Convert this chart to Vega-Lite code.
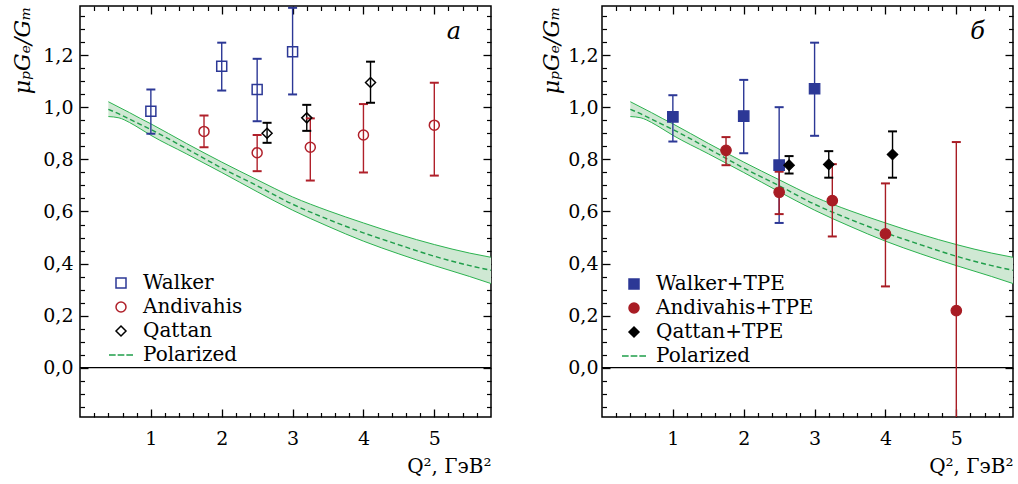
{
  "$schema": "https://vega.github.io/schema/vega-lite/v6.json",
  "background": "white",
  "padding": {"left": 11, "top": 4, "right": 5, "bottom": 5},
  "spacing": 45,
  "datasets": {
    "band": [
      {"q2": 0.4, "lo": 0.965, "mid": 0.993, "hi": 1.022},
      {"q2": 0.55, "lo": 0.960, "mid": 0.975, "hi": 1.001},
      {"q2": 0.7, "lo": 0.942, "mid": 0.955, "hi": 0.980},
      {"q2": 0.85, "lo": 0.918, "mid": 0.935, "hi": 0.958},
      {"q2": 1.0, "lo": 0.893, "mid": 0.915, "hi": 0.937},
      {"q2": 1.5, "lo": 0.822, "mid": 0.842, "hi": 0.862},
      {"q2": 2.0, "lo": 0.750, "mid": 0.767, "hi": 0.790},
      {"q2": 2.5, "lo": 0.676, "mid": 0.699, "hi": 0.722},
      {"q2": 3.0, "lo": 0.605, "mid": 0.628, "hi": 0.656},
      {"q2": 3.5, "lo": 0.543, "mid": 0.570, "hi": 0.603},
      {"q2": 4.0, "lo": 0.486, "mid": 0.518, "hi": 0.556},
      {"q2": 4.5, "lo": 0.437, "mid": 0.472, "hi": 0.512},
      {"q2": 5.0, "lo": 0.392, "mid": 0.428, "hi": 0.473},
      {"q2": 5.5, "lo": 0.350, "mid": 0.392, "hi": 0.440},
      {"q2": 5.8, "lo": 0.323, "mid": 0.374, "hi": 0.424}
    ],
    "zero": [{"v": 0}],
    "left": [
      {"series": "Walker", "q2": 1.0, "v": 0.985, "lo": 0.899, "hi": 1.069},
      {"series": "Walker", "q2": 2.0, "v": 1.158, "lo": 1.065, "hi": 1.249},
      {"series": "Walker", "q2": 2.5, "v": 1.069, "lo": 0.947, "hi": 1.187},
      {"series": "Walker", "q2": 3.0, "v": 1.214, "lo": 1.050, "hi": 1.383},
      {"series": "Andivahis", "q2": 1.75, "v": 0.908, "lo": 0.847, "hi": 0.969},
      {"series": "Andivahis", "q2": 2.5, "v": 0.826, "lo": 0.755, "hi": 0.894},
      {"series": "Andivahis", "q2": 3.25, "v": 0.847, "lo": 0.719, "hi": 0.958},
      {"series": "Andivahis", "q2": 4.0, "v": 0.894, "lo": 0.750, "hi": 1.013},
      {"series": "Andivahis", "q2": 5.0, "v": 0.932, "lo": 0.738, "hi": 1.095},
      {"series": "Qattan", "q2": 2.64, "v": 0.901, "lo": 0.864, "hi": 0.941},
      {"series": "Qattan", "q2": 3.2, "v": 0.960, "lo": 0.910, "hi": 1.010},
      {"series": "Qattan", "q2": 4.1, "v": 1.096, "lo": 1.018, "hi": 1.176}
    ],
    "right": [
      {"series": "Walker+TPE", "q2": 1.0, "v": 0.964, "lo": 0.869, "hi": 1.047},
      {"series": "Walker+TPE", "q2": 2.0, "v": 0.967, "lo": 0.824, "hi": 1.106},
      {"series": "Walker+TPE", "q2": 2.5, "v": 0.778, "lo": 0.556, "hi": 1.001},
      {"series": "Walker+TPE", "q2": 3.0, "v": 1.072, "lo": 0.891, "hi": 1.249},
      {"series": "Andivahis+TPE", "q2": 1.75, "v": 0.835, "lo": 0.778, "hi": 0.886},
      {"series": "Andivahis+TPE", "q2": 2.5, "v": 0.674, "lo": 0.590, "hi": 0.753},
      {"series": "Andivahis+TPE", "q2": 3.25, "v": 0.642, "lo": 0.504, "hi": 0.782},
      {"series": "Andivahis+TPE", "q2": 4.0, "v": 0.514, "lo": 0.312, "hi": 0.708},
      {"series": "Andivahis+TPE", "q2": 5.0, "v": 0.219, "lo": -0.430, "hi": 0.867},
      {"series": "Qattan+TPE", "q2": 2.64, "v": 0.778, "lo": 0.746, "hi": 0.813},
      {"series": "Qattan+TPE", "q2": 3.2, "v": 0.781, "lo": 0.730, "hi": 0.832},
      {"series": "Qattan+TPE", "q2": 4.1, "v": 0.819, "lo": 0.730, "hi": 0.908}
    ]
  },
  "hconcat": [
    {
      "width": 411,
      "height": 411,
      "title": {"text": "а", "anchor": "end", "orient": "top", "frame": "group", "offset": -39, "dx": -30, "font": "DejaVu Serif", "fontStyle": "italic", "fontSize": 24, "fontWeight": "normal", "color": "black"},
      "layer": [
        {
          "data": {"name": "band"},
          "mark": {"type": "area", "color": "#cfe8d3", "interpolate": "monotone"},
          "encoding": {
            "x": {"field": "q2", "type": "quantitative", "scale": {"domain": [0, 5.8], "nice": false, "zero": false},
              "axis": {"orient": "bottom", "values": [1, 2, 3, 4, 5], "format": "d", "tickSize": -8, "tickWidth": 1.3, "labelPadding": 20, "title": "Q², ГэВ²", "titleAnchor": "end", "titlePadding": 8}},
            "y": {"field": "lo", "type": "quantitative", "scale": {"domain": [-0.19, 1.39], "nice": false, "zero": false},
              "axis": {"orient": "left", "values": [0, 0.2, 0.4, 0.6, 0.8, 1, 1.2], "labelExpr": "replace(format(datum.value, '.1f'), '.', ',')", "tickSize": -8, "tickWidth": 1.3, "labelPadding": 15, "title": "μₚGₑ/Gₘ", "titleAnchor": "end", "titleFontStyle": "italic", "titleFontSize": 22, "titlePadding": 8}},
            "y2": {"field": "hi"}
          }
        },
        {
          "data": {"name": "band"},
          "mark": {"type": "line", "color": "#2bb24f", "strokeWidth": 1, "interpolate": "monotone"},
          "encoding": {
            "x": {"field": "q2", "type": "quantitative", "axis": {"orient": "top", "values": [1, 2, 3, 4, 5], "tickSize": -8, "tickWidth": 1.3, "labels": false, "title": null}},
            "y": {"field": "lo", "type": "quantitative", "axis": {"orient": "right", "values": [0, 0.2, 0.4, 0.6, 0.8, 1, 1.2], "tickSize": -8, "tickWidth": 1.3, "labels": false, "title": null}}
          }
        },
        {
          "data": {"name": "band"},
          "mark": {"type": "line", "color": "#2bb24f", "strokeWidth": 1, "interpolate": "monotone"},
          "encoding": {
            "x": {"field": "q2", "type": "quantitative", "axis": {"orient": "bottom", "values": [0.2, 0.4, 0.6, 0.8, 1.2, 1.4, 1.6, 1.8, 2.2, 2.4, 2.6, 2.8, 3.2, 3.4, 3.6, 3.8, 4.2, 4.4, 4.6, 4.8, 5.2, 5.4, 5.6], "tickSize": -4.5, "tickWidth": 1.2, "labels": false, "title": null}},
            "y": {"field": "hi", "type": "quantitative", "axis": {"orient": "left", "values": [-0.15, -0.1, -0.05, 0.05, 0.1, 0.15, 0.25, 0.3, 0.35, 0.45, 0.5, 0.55, 0.65, 0.7, 0.75, 0.85, 0.9, 0.95, 1.05, 1.1, 1.15, 1.25, 1.3, 1.35], "tickSize": -4.5, "tickWidth": 1.2, "labels": false, "title": null}}
          }
        },
        {
          "data": {"name": "band"},
          "mark": {"type": "line", "color": "#1f9e4a", "strokeWidth": 1.4, "strokeDash": [5, 3], "interpolate": "monotone"},
          "encoding": {
            "x": {"field": "q2", "type": "quantitative", "axis": {"orient": "top", "values": [0.2, 0.4, 0.6, 0.8, 1.2, 1.4, 1.6, 1.8, 2.2, 2.4, 2.6, 2.8, 3.2, 3.4, 3.6, 3.8, 4.2, 4.4, 4.6, 4.8, 5.2, 5.4, 5.6], "tickSize": -4.5, "tickWidth": 1.2, "labels": false, "title": null}},
            "y": {"field": "mid", "type": "quantitative", "axis": {"orient": "right", "values": [-0.15, -0.1, -0.05, 0.05, 0.1, 0.15, 0.25, 0.3, 0.35, 0.45, 0.5, 0.55, 0.65, 0.7, 0.75, 0.85, 0.9, 0.95, 1.05, 1.1, 1.15, 1.25, 1.3, 1.35], "tickSize": -4.5, "tickWidth": 1.2, "labels": false, "title": null}}
          }
        },
        {
          "data": {"name": "zero"},
          "mark": {"type": "rule", "color": "black", "strokeWidth": 1.3},
          "encoding": {"y": {"field": "v", "type": "quantitative", "axis": null}}
        },
        {
          "data": {"name": "left"},
          "mark": {"type": "rule", "strokeWidth": 1.4, "clip": true},
          "encoding": {
            "x": {"field": "q2", "type": "quantitative", "axis": null},
            "y": {"field": "lo", "type": "quantitative", "axis": null},
            "y2": {"field": "hi"},
            "stroke": {"field": "series", "type": "nominal", "scale": {"domain": ["Walker", "Andivahis", "Qattan"], "range": ["#2c3896", "#b0202a", "#000000"]}, "legend": null}
          }
        },
        {
          "data": {"name": "left"},
          "mark": {"type": "point", "shape": "stroke", "size": 81, "strokeWidth": 2, "filled": false, "opacity": 1, "clip": true},
          "encoding": {
            "x": {"field": "q2", "type": "quantitative", "axis": null},
            "y": {"field": "hi", "type": "quantitative", "axis": null},
            "stroke": {"field": "series", "type": "nominal", "scale": {"domain": ["Walker", "Andivahis", "Qattan"], "range": ["#2c3896", "#b0202a", "#000000"]}, "legend": null}
          }
        },
        {
          "data": {"name": "left"},
          "mark": {"type": "point", "shape": "stroke", "size": 81, "strokeWidth": 2, "filled": false, "opacity": 1, "clip": true},
          "encoding": {
            "x": {"field": "q2", "type": "quantitative", "axis": null},
            "y": {"field": "lo", "type": "quantitative", "axis": null},
            "stroke": {"field": "series", "type": "nominal", "scale": {"domain": ["Walker", "Andivahis", "Qattan"], "range": ["#2c3896", "#b0202a", "#000000"]}, "legend": null}
          }
        },
        {
          "data": {"name": "left"},
          "mark": {"type": "point", "filled": false, "size": 100, "strokeWidth": 1.5, "opacity": 1},
          "encoding": {
            "x": {"field": "q2", "type": "quantitative", "axis": null},
            "y": {"field": "v", "type": "quantitative", "axis": null},
            "color": {"field": "series", "type": "nominal",
              "scale": {"domain": ["Walker", "Andivahis", "Qattan", "Polarized"], "range": ["#2c3896", "#b0202a", "#000000", "#1f9e4a"]},
              "legend": {"title": null, "orient": "none", "legendX": 31, "legendY": 267, "labelFont": "DejaVu Serif", "labelFontSize": 20, "labelOffset": 12}},
            "shape": {"field": "series", "type": "nominal",
              "scale": {"domain": ["Walker", "Andivahis", "Qattan", "Polarized"], "range": ["square", "circle", "diamond", "M-2.4,0H-1.07M-0.67,0H0.67M1.07,0H2.4"]},
              "legend": {"title": null, "orient": "none", "legendX": 31, "legendY": 267, "labelFont": "DejaVu Serif", "labelFontSize": 20, "labelOffset": 12}}
          }
        }
      ]
    },
    {
      "width": 411,
      "height": 411,
      "title": {"text": "б", "anchor": "end", "orient": "top", "frame": "group", "offset": -39, "dx": -28, "font": "DejaVu Serif", "fontStyle": "italic", "fontSize": 24, "fontWeight": "normal", "color": "black"},
      "layer": [
        {
          "data": {"name": "band"},
          "mark": {"type": "area", "color": "#cfe8d3", "interpolate": "monotone"},
          "encoding": {
            "x": {"field": "q2", "type": "quantitative", "scale": {"domain": [0, 5.8], "nice": false, "zero": false},
              "axis": {"orient": "bottom", "values": [1, 2, 3, 4, 5], "format": "d", "tickSize": -8, "tickWidth": 1.3, "labelPadding": 20, "title": "Q², ГэВ²", "titleAnchor": "end", "titlePadding": 8}},
            "y": {"field": "lo", "type": "quantitative", "scale": {"domain": [-0.19, 1.39], "nice": false, "zero": false},
              "axis": {"orient": "left", "values": [0, 0.2, 0.4, 0.6, 0.8, 1, 1.2], "labelExpr": "replace(format(datum.value, '.1f'), '.', ',')", "tickSize": -8, "tickWidth": 1.3, "labelPadding": 12, "title": "μₚGₑ/Gₘ", "titleAnchor": "end", "titleFontStyle": "italic", "titleFontSize": 22, "titlePadding": 4}},
            "y2": {"field": "hi"}
          }
        },
        {
          "data": {"name": "band"},
          "mark": {"type": "line", "color": "#2bb24f", "strokeWidth": 1, "interpolate": "monotone"},
          "encoding": {
            "x": {"field": "q2", "type": "quantitative", "axis": {"orient": "top", "values": [1, 2, 3, 4, 5], "tickSize": -8, "tickWidth": 1.3, "labels": false, "title": null}},
            "y": {"field": "lo", "type": "quantitative", "axis": {"orient": "right", "values": [0, 0.2, 0.4, 0.6, 0.8, 1, 1.2], "tickSize": -8, "tickWidth": 1.3, "labels": false, "title": null}}
          }
        },
        {
          "data": {"name": "band"},
          "mark": {"type": "line", "color": "#2bb24f", "strokeWidth": 1, "interpolate": "monotone"},
          "encoding": {
            "x": {"field": "q2", "type": "quantitative", "axis": {"orient": "bottom", "values": [0.2, 0.4, 0.6, 0.8, 1.2, 1.4, 1.6, 1.8, 2.2, 2.4, 2.6, 2.8, 3.2, 3.4, 3.6, 3.8, 4.2, 4.4, 4.6, 4.8, 5.2, 5.4, 5.6], "tickSize": -4.5, "tickWidth": 1.2, "labels": false, "title": null}},
            "y": {"field": "hi", "type": "quantitative", "axis": {"orient": "left", "values": [-0.15, -0.1, -0.05, 0.05, 0.1, 0.15, 0.25, 0.3, 0.35, 0.45, 0.5, 0.55, 0.65, 0.7, 0.75, 0.85, 0.9, 0.95, 1.05, 1.1, 1.15, 1.25, 1.3, 1.35], "tickSize": -4.5, "tickWidth": 1.2, "labels": false, "title": null}}
          }
        },
        {
          "data": {"name": "band"},
          "mark": {"type": "line", "color": "#1f9e4a", "strokeWidth": 1.4, "strokeDash": [5, 3], "interpolate": "monotone"},
          "encoding": {
            "x": {"field": "q2", "type": "quantitative", "axis": {"orient": "top", "values": [0.2, 0.4, 0.6, 0.8, 1.2, 1.4, 1.6, 1.8, 2.2, 2.4, 2.6, 2.8, 3.2, 3.4, 3.6, 3.8, 4.2, 4.4, 4.6, 4.8, 5.2, 5.4, 5.6], "tickSize": -4.5, "tickWidth": 1.2, "labels": false, "title": null}},
            "y": {"field": "mid", "type": "quantitative", "axis": {"orient": "right", "values": [-0.15, -0.1, -0.05, 0.05, 0.1, 0.15, 0.25, 0.3, 0.35, 0.45, 0.5, 0.55, 0.65, 0.7, 0.75, 0.85, 0.9, 0.95, 1.05, 1.1, 1.15, 1.25, 1.3, 1.35], "tickSize": -4.5, "tickWidth": 1.2, "labels": false, "title": null}}
          }
        },
        {
          "data": {"name": "zero"},
          "mark": {"type": "rule", "color": "black", "strokeWidth": 1.3},
          "encoding": {"y": {"field": "v", "type": "quantitative", "axis": null}}
        },
        {
          "data": {"name": "right"},
          "mark": {"type": "rule", "strokeWidth": 1.4, "clip": true},
          "encoding": {
            "x": {"field": "q2", "type": "quantitative", "axis": null},
            "y": {"field": "lo", "type": "quantitative", "axis": null},
            "y2": {"field": "hi"},
            "stroke": {"field": "series", "type": "nominal", "scale": {"domain": ["Walker+TPE", "Andivahis+TPE", "Qattan+TPE"], "range": ["#2c3896", "#a81c24", "#000000"]}, "legend": null}
          }
        },
        {
          "data": {"name": "right"},
          "mark": {"type": "point", "shape": "stroke", "size": 81, "strokeWidth": 2, "filled": false, "opacity": 1, "clip": true},
          "encoding": {
            "x": {"field": "q2", "type": "quantitative", "axis": null},
            "y": {"field": "hi", "type": "quantitative", "axis": null},
            "stroke": {"field": "series", "type": "nominal", "scale": {"domain": ["Walker+TPE", "Andivahis+TPE", "Qattan+TPE"], "range": ["#2c3896", "#a81c24", "#000000"]}, "legend": null}
          }
        },
        {
          "data": {"name": "right"},
          "mark": {"type": "point", "shape": "stroke", "size": 81, "strokeWidth": 2, "filled": false, "opacity": 1, "clip": true},
          "encoding": {
            "x": {"field": "q2", "type": "quantitative", "axis": null},
            "y": {"field": "lo", "type": "quantitative", "axis": null},
            "stroke": {"field": "series", "type": "nominal", "scale": {"domain": ["Walker+TPE", "Andivahis+TPE", "Qattan+TPE"], "range": ["#2c3896", "#a81c24", "#000000"]}, "legend": null}
          }
        },
        {
          "data": {"name": "right"},
          "mark": {"type": "point", "filled": false, "size": 110, "strokeWidth": 1.2, "opacity": 1, "fillOpacity": 1},
          "encoding": {
            "x": {"field": "q2", "type": "quantitative", "axis": null},
            "y": {"field": "v", "type": "quantitative", "axis": null},
            "color": {"field": "series", "type": "nominal",
              "scale": {"domain": ["Walker+TPE", "Andivahis+TPE", "Qattan+TPE", "Polarized"], "range": ["#2c3896", "#a81c24", "#000000", "#1f9e4a"]},
              "legend": {"title": null, "orient": "none", "legendX": 22, "legendY": 268, "labelFont": "DejaVu Serif", "labelFontSize": 20, "labelOffset": 12}},
            "fill": {"field": "series", "type": "nominal",
              "scale": {"domain": ["Walker+TPE", "Andivahis+TPE", "Qattan+TPE", "Polarized"], "range": ["#2c3896", "#a81c24", "#000000", "#1f9e4a"]},
              "legend": {"title": null, "orient": "none", "legendX": 22, "legendY": 268, "labelFont": "DejaVu Serif", "labelFontSize": 20, "labelOffset": 12}},
            "shape": {"field": "series", "type": "nominal",
              "scale": {"domain": ["Walker+TPE", "Andivahis+TPE", "Qattan+TPE", "Polarized"], "range": ["square", "circle", "diamond", "M-2.4,0H-1.07M-0.67,0H0.67M1.07,0H2.4"]},
              "legend": {"title": null, "orient": "none", "legendX": 22, "legendY": 268, "labelFont": "DejaVu Serif", "labelFontSize": 20, "labelOffset": 12}}
          }
        }
      ]
    }
  ],
  "resolve": {
    "scale": {"x": "independent", "y": "independent", "color": "independent", "shape": "independent", "fill": "independent", "stroke": "independent"},
    "legend": {"color": "independent", "shape": "independent", "fill": "independent", "stroke": "independent"}
  },
  "config": {
    "font": "DejaVu Serif",
    "view": {"stroke": "black", "strokeWidth": 1.5},
    "axis": {"labelFont": "DejaVu Serif", "labelFontSize": 19, "labelColor": "black", "tickColor": "black", "grid": false, "domain": false, "titleFont": "DejaVu Serif", "titleFontSize": 20, "titleColor": "black", "titleFontWeight": "normal"},
    "legend": {"labelFont": "DejaVu Serif", "labelFontSize": 20, "labelColor": "black", "symbolSize": 100, "symbolStrokeWidth": 1.5, "rowPadding": 4, "labelOffset": 12, "padding": 0}
  }
}
